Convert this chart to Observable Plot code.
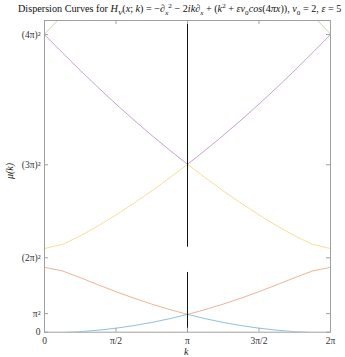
<!DOCTYPE html>
<html><head><meta charset="utf-8">
<script src="https://cdn.jsdelivr.net/npm/d3@7"></script>
<script src="https://cdn.jsdelivr.net/npm/@observablehq/plot@0.6"></script>
<style>
html,body{margin:0;padding:0;background:#fff;}
#wrap{position:relative;width:345px;height:357px;overflow:hidden;font-family:"Liberation Serif","DejaVu Serif",serif;}
#title{position:absolute;top:4px;left:18px;white-space:nowrap;font-size:10.2px;line-height:1;color:#111;}
#title sub,#title sup{font-size:70%;line-height:0;}
#ylab{position:absolute;left:2px;top:166px;line-height:1;transform:rotate(-90deg);transform-origin:center;font-size:10px;font-style:italic;color:#222;}
#xlab{position:absolute;left:184px;top:347px;line-height:1;font-size:10px;font-style:italic;color:#222;}
</style></head>
<body>
<div id="wrap">
<div id="chart"></div>
<div id="title">Dispersion Curves for <i>H</i><sub><i>V</i></sub>(<i>x</i>; <i>k</i>) = −∂<sub><i>x</i></sub><sup>2</sup> − 2<i>ik</i>∂<sub><i>x</i></sub> + (<i>k</i><sup>2</sup> + <i>εv</i><sub>0</sub><i>cos</i>(4<i>πx</i>)), <i>v</i><sub>0</sub> = 2, <i>ε</i> = 5</div>
<div id="ylab">μ(k)</div>
<div id="xlab">k</div>
</div>
<script>
// k in units of pi
const kOverPi = [0,0.125,0.25,0.375,0.5,0.625,0.75,0.875,1,1.125,1.25,1.375,1.5,1.625,1.75,1.875,2];
const band1 = [-0.32,-0.16,0.29,1.06,2.13,3.50,5.18,7.17,9.45,7.17,5.18,3.50,2.13,1.06,0.29,-0.16,-0.32];
const band2 = [34.40,32.53,28.95,25.15,21.50,18.07,14.90,12.03,9.45,12.03,14.90,18.07,21.50,25.15,28.95,32.53,34.40];
const band3 = [44.40,46.58,51.09,56.43,62.24,68.45,74.99,81.89,89.08,81.89,74.99,68.45,62.24,56.43,51.09,46.58,44.40];
const band4 = [157.90,148.32,138.93,129.84,121.06,112.60,104.44,96.61,89.08,96.61,104.44,112.60,121.06,129.84,138.93,148.32,157.90];
const band5 = [158.2,168.1,178.3,188.9,199.9,211.1,222.7,234.6,246.7,234.6,222.7,211.1,199.9,188.9,178.3,168.1,158.2];
const bandNames = ["band1","band2","band3","band4","band5"];
const bandColors = ["#0072BD","#D95319","#EDB120","#7E2F8E","#77AC30"];
// vertical line at k = pi (segments, in mu units)
const markerK = [1];
const markerLow = [0, 31.7];
const markerHigh = [45.1, 165.4];
// ticks
const xTicks = [0,0.5,1,1.5,2];
const xLabels = ["0","π/2","π","3π/2","2π"];
const yTicks = [0, 9.8696, 39.478, 88.826, 157.91];
const yLabels = ["0","π²","(2π)²","(3π)²","(4π)²"];
const yDomain = [0, 165.4];

const bands = [band1,band2,band3,band4,band5];
const rows = [];
bands.forEach((b,bi)=>b.forEach((v,i)=>rows.push({k:kOverPi[i], mu:v, band:bandNames[bi]})));

const W=345,H=357,mL=44,mR=15,mT=20,mB=25.3;
const fw=W-mL-mR, fh=H-mT-mB;
const axisCol="#a0a0a0", tickLen=4;
const font = {fontFamily:"Liberation Serif, DejaVu Serif, serif", fontSize:9.5, fill:"#333"};

const chart = Plot.plot({
  width:W, height:H, marginLeft:mL, marginRight:mR, marginTop:mT, marginBottom:mB,
  style:{background:"#fff"},
  x:{domain:[0,2], label:null},
  y:{domain:yDomain, label:null},
  color:{domain:bandNames, range:bandColors},
  marks:[
    Plot.line(rows,{x:"k", y:"mu", z:"band", stroke:"band", strokeWidth:0.6, strokeOpacity:0.75, clip:true}),
    Plot.ruleX(markerK,{x:d=>d, y1:markerLow[0], y2:markerLow[1], stroke:"#111", strokeWidth:1}),
    Plot.ruleX(markerK,{x:d=>d, y1:markerHigh[0], y2:markerHigh[1], stroke:"#111", strokeWidth:1}),
    Plot.frame({stroke:axisCol, strokeWidth:1}),
    Plot.tickX(xTicks,{x:d=>d, stroke:axisCol, insetTop:fh-tickLen}),
    Plot.tickX(xTicks,{x:d=>d, stroke:axisCol, insetBottom:fh-tickLen}),
    Plot.tickY(yTicks,{y:d=>d, stroke:axisCol, insetRight:fw-tickLen}),
    Plot.tickY(yTicks,{y:d=>d, stroke:axisCol, insetLeft:fw-tickLen}),
    Plot.axisX({ticks:xTicks, tickSize:0, tickPadding:5, tickFormat:d=>xLabels[xTicks.indexOf(d)], ...font}),
    Plot.axisY({ticks:yTicks, tickSize:0, tickPadding:4, tickFormat:d=>yLabels[yTicks.indexOf(d)], ...font})
  ]
});
document.getElementById("chart").appendChild(chart);
</script>
</body></html>
